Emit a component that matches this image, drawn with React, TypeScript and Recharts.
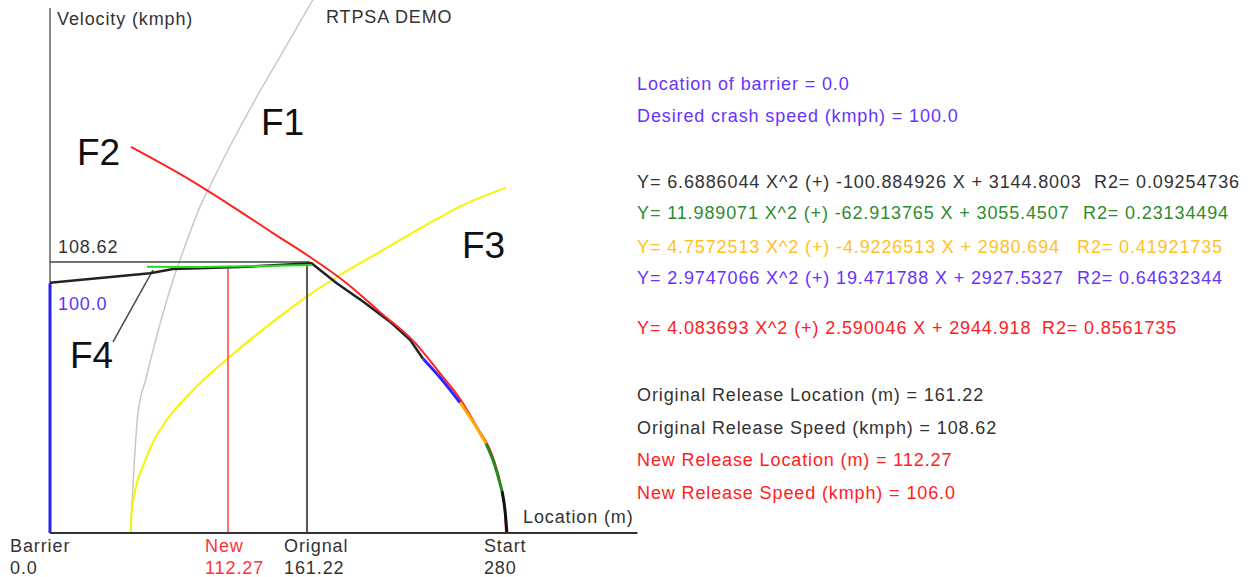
import { ComposedChart, Line, XAxis, YAxis, ReferenceLine } from "recharts";

type Pt = { x: number; y: number };

// curves: x = location (m), y = velocity (kmph)
const f1Curve: Pt[] = [
  { x: 49.3, y: 0 },
  { x: 53.9, y: 48.1 },
  { x: 58.6, y: 61.3 },
  { x: 75.4, y: 101.4 },
  { x: 82.5, y: 114.6 },
  { x: 91.9, y: 130.7 },
  { x: 99.9, y: 141.5 },
  { x: 109.1, y: 153.5 },
  { x: 125.6, y: 173.5 },
  { x: 140.9, y: 190.8 },
  { x: 161.0, y: 213.6 },
];

const f2Curve: Pt[] = [
  { x: 49.6, y: 154.7 },
  { x: 85.8, y: 141.5 },
  { x: 112.1, y: 130.7 },
  { x: 136.6, y: 120.2 },
  { x: 157.5, y: 111.4 },
  { x: 181.8, y: 100.1 },
  { x: 202.2, y: 88.5 },
  { x: 222.6, y: 77.0 },
  { x: 239.0, y: 64.0 },
  { x: 251.2, y: 53.8 },
  { x: 261.5, y: 42.6 },
  { x: 271.6, y: 30.0 },
  { x: 276.8, y: 17.2 },
  { x: 278.8, y: 7.9 },
  { x: 279.4, y: 0 },
];

const f3Curve: Pt[] = [
  { x: 49.6, y: 0 },
  { x: 50.1, y: 9.2 },
  { x: 59.3, y: 30.6 },
  { x: 71.5, y: 45.3 },
  { x: 83.8, y: 54.6 },
  { x: 93.9, y: 61.3 },
  { x: 110.3, y: 70.7 },
  { x: 132.8, y: 82.7 },
  { x: 157.3, y: 94.7 },
  { x: 177.7, y: 103.4 },
  { x: 202.2, y: 112.7 },
  { x: 228.7, y: 122.8 },
  { x: 255.3, y: 132.1 },
  { x: 279.4, y: 138.3 },
];

// measured speed profile, in coloured pieces
const profileBlack: Pt[] = [
  { x: 0, y: 100.3 },
  { x: 61.3, y: 104.1 },
  { x: 75.4, y: 105.8 },
  { x: 116.4, y: 106.6 },
  { x: 157.5, y: 108.0 },
  { x: 160.3, y: 108.1 },
  { x: 175.7, y: 100.1 },
  { x: 192.0, y: 92.7 },
  { x: 208.3, y: 84.7 },
  { x: 220.6, y: 77.4 },
  { x: 228.6, y: 69.8 },
];
const profileTopGreen: Pt[] = [
  { x: 59.4, y: 106.7 },
  { x: 91.9, y: 106.6 },
  { x: 128.7, y: 107.0 },
  { x: 160.5, y: 107.4 },
];
const profileBlue: Pt[] = [
  { x: 228.6, y: 69.8 },
  { x: 239.0, y: 62.3 },
  { x: 251.2, y: 52.3 },
];
const profileOrange: Pt[] = [
  { x: 251.2, y: 52.3 },
  { x: 259.2, y: 44.6 },
  { x: 267.2, y: 35.8 },
];
const profileGreen: Pt[] = [
  { x: 267.2, y: 35.8 },
  { x: 272.7, y: 26.8 },
  { x: 277.0, y: 16.8 },
];
const profileEnd: Pt[] = [
  { x: 277.0, y: 16.8 },
  { x: 278.8, y: 9.2 },
  { x: 280, y: 0 },
];

const barrierX = 0;
const newReleaseX = 109.1;
const originalReleaseX = 157.5;
const originalSpeed = 108.62;
const desiredSpeed = 100;
const newSpeed = 106;
const f4Pointer: Pt[] = [
  { x: 63.1, y: 105.4 },
  { x: 38.6, y: 76.6 },
];

const tickPositions = [0, 109.1, 157.5, 280];
const tickNames = ["Barrier", "New", "Orignal", "Start"];
const tickValues = ["0.0", "112.27", "161.22", "280"];

const infoLines = [
  { text: "Location of barrier = 0.0", r2: "", color: "#6633ff", top: 75 },
  { text: "Desired crash speed (kmph) = 100.0", r2: "", color: "#6633ff", top: 107 },
  { text: "Y= 6.6886044 X^2 (+) -100.884926 X + 3144.8003", r2: "R2= 0.09254736", color: "#333333", top: 173, r2Left: 1094 },
  { text: "Y= 11.989071 X^2 (+) -62.913765 X + 3055.4507", r2: "R2= 0.23134494", color: "#2e8b2e", top: 204, r2Left: 1083 },
  { text: "Y= 4.7572513 X^2 (+) -4.9226513 X + 2980.694", r2: "R2= 0.41921735", color: "#ffc125", top: 238, r2Left: 1077 },
  { text: "Y= 2.9747066 X^2 (+) 19.471788 X + 2927.5327", r2: "R2= 0.64632344", color: "#6633ff", top: 269, r2Left: 1077 },
  { text: "Y= 4.083693 X^2 (+) 2.590046 X + 2944.918", r2: "R2= 0.8561735", color: "#ff2020", top: 319, r2Left: 1042 },
  { text: "Original Release Location (m) = 161.22", r2: "", color: "#333333", top: 386 },
  { text: "Original Release Speed (kmph) = 108.62", r2: "", color: "#333333", top: 419 },
  { text: "New Release Location (m) = 112.27", r2: "", color: "#ff2020", top: 451 },
  { text: "New Release Speed (kmph) = 106.0", r2: "", color: "#ff2020", top: 484 },
];

const FONT = "'Liberation Sans', Arial, sans-serif";

function LocationTick(props: any) {
  const { x, index } = props;
  const left = index === 0 ? 10 : x - 23;
  const color = index === 1 ? "#ff3333" : "#333333";
  return (
    <g fontFamily={FONT} fontSize={18} letterSpacing={0.9} fill={color}>
      <text x={left} y={552}>{tickNames[index]}</text>
      <text x={left} y={574}>{tickValues[index]}</text>
    </g>
  );
}

const label = (left: number, top: number, text: string, color = "#333333", size = 18) => (
  <div
    style={{
      position: "absolute",
      left,
      top,
      color,
      fontSize: size,
      lineHeight: `${size}px`,
      letterSpacing: size > 20 ? 0 : 0.88,
      whiteSpace: "pre",
    }}
  >
    {text}
  </div>
);

export default function App() {
  return (
    <div
      style={{
        position: "absolute",
        left: 0,
        top: 0,
        width: 1259,
        height: 577,
        background: "#fff",
        fontFamily: FONT,
        overflow: "hidden",
      }}
    >
      <ComposedChart
        width={1259}
        height={577}
        margin={{ top: 0, right: 621.5, bottom: 0, left: 50 }}
      >
        <XAxis
          type="number"
          dataKey="x"
          domain={[0, 360]}
          ticks={tickPositions}
          interval={0}
          height={44}
          tickLine={false}
          axisLine={{ stroke: "#333", strokeWidth: 2 }}
          tick={<LocationTick />}
          allowDataOverflow
        />
        <YAxis type="number" dataKey="y" domain={[0, 213.6]} hide allowDataOverflow />

        <ReferenceLine
          segment={[{ x: 0, y: 0 }, { x: 0, y: 210.4 }]}
          stroke="#888"
          strokeWidth={2}
        />
        <Line data={f1Curve} dataKey="y" type="monotone" stroke="#c8c8c8" strokeWidth={1.5} dot={false} isAnimationActive={false} />
        <Line data={f3Curve} dataKey="y" type="monotone" stroke="#f5f500" strokeWidth={2} dot={false} isAnimationActive={false} />

        <ReferenceLine
          segment={[{ x: barrierX, y: 0 }, { x: barrierX, y: desiredSpeed }]}
          stroke="#2222ee"
          strokeWidth={3}
        />
        <ReferenceLine
          segment={[{ x: 0, y: originalSpeed }, { x: 159.3, y: originalSpeed }]}
          stroke="#444"
          strokeWidth={1.5}
        />
        <ReferenceLine
          segment={[{ x: originalReleaseX, y: 0 }, { x: originalReleaseX, y: originalSpeed }]}
          stroke="#555"
          strokeWidth={2}
        />
        <ReferenceLine
          segment={[{ x: newReleaseX, y: 0 }, { x: newReleaseX, y: newSpeed }]}
          stroke="#ff4444"
          strokeWidth={1.5}
        />
        <ReferenceLine
          segment={[f4Pointer[0], f4Pointer[1]]}
          stroke="#444"
          strokeWidth={1.5}
        />

        <Line data={profileBlack} dataKey="y" type="linear" stroke="#222" strokeWidth={2.5} dot={false} isAnimationActive={false} />
        <Line data={profileTopGreen} dataKey="y" type="linear" stroke="#22dd22" strokeWidth={2} dot={false} isAnimationActive={false} />
        <Line data={f2Curve} dataKey="y" type="monotone" stroke="#ff2020" strokeWidth={2} dot={false} isAnimationActive={false} />
        <Line data={profileBlue} dataKey="y" type="monotone" stroke="#3322ff" strokeWidth={3} dot={false} isAnimationActive={false} />
        <Line data={profileOrange} dataKey="y" type="monotone" stroke="#ffaa00" strokeWidth={3} dot={false} isAnimationActive={false} />
        <Line data={profileGreen} dataKey="y" type="monotone" stroke="#228b22" strokeWidth={3} dot={false} isAnimationActive={false} />
        <Line data={profileEnd} dataKey="y" type="monotone" stroke="#111" strokeWidth={3} dot={false} isAnimationActive={false} />
      </ComposedChart>

      {label(57, 10, "Velocity (kmph)")}
      {label(326, 8, "RTPSA DEMO")}
      {label(58, 238, "108.62")}
      {label(58, 295, "100.0", "#5533ff")}
      {label(523, 508, "Location (m)")}
      {label(261, 104, "F1", "#111", 37)}
      {label(77, 134, "F2", "#111", 37)}
      {label(462, 227, "F3", "#111", 37)}
      {label(70, 337, "F4", "#111", 37)}

      {infoLines.map((l) => (
        <div key={l.text}>
          {label(637, l.top, l.text, l.color)}
          {l.r2 ? label(l.r2Left as number, l.top, l.r2, l.color) : null}
        </div>
      ))}
    </div>
  );
}
